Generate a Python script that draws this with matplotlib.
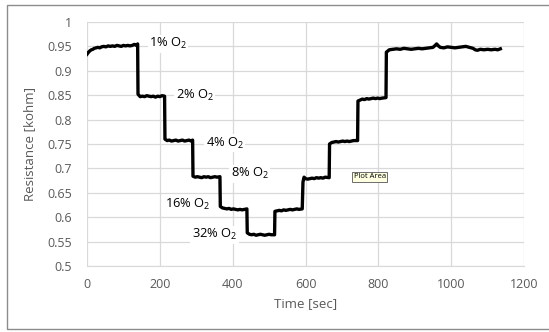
import matplotlib.pyplot as plt
from matplotlib.patches import Rectangle

plt.rcParams['font.family'] = ['Open Sans', 'DejaVu Sans']
plt.rcParams['mathtext.fontset'] = 'custom'
plt.rcParams['mathtext.rm'] = 'Open Sans'
plt.rcParams['mathtext.it'] = 'Open Sans'

# time [sec] and resistance [kohm]
time = [0, 4, 8, 12, 16, 20, 25, 30, 35, 40, 46, 52, 58, 64, 70, 76, 82, 88, 94,
        100, 106, 112, 118, 124, 130, 136, 139,
        140, 146, 152, 158, 164, 170, 176, 182, 188, 194, 200, 206, 213,
        214, 220, 226, 232, 238, 244, 250, 256, 262, 268, 274, 280, 286, 290,
        291, 297, 303, 309, 315, 321, 327, 333, 339, 345, 351, 357, 365,
        366, 372, 378, 384, 390, 396, 402, 408, 414, 420, 426, 432, 439,
        440, 446, 452, 458, 464, 470, 476, 482, 488, 494, 500, 506, 515,
        516, 522, 528, 534, 540, 546, 552, 558, 564, 570, 576, 582, 591,
        593, 596, 600, 606, 612, 618, 624, 630, 636, 642, 648, 654, 665,
        666, 672, 678, 684, 690, 696, 702, 708, 714, 720, 726, 732, 743,
        744, 750, 756, 762, 768, 774, 780, 786, 792, 798, 804, 810, 821,
        822, 830, 840, 850, 860, 870, 880, 890, 900, 910, 920, 930, 940,
        950, 956, 960, 965, 970, 980, 990, 1000, 1010, 1020, 1030, 1040,
        1050, 1060, 1066, 1072, 1080, 1090, 1100, 1110, 1120, 1128, 1135]
resistance = [0.934, 0.938, 0.941, 0.943, 0.944, 0.946, 0.947, 0.948, 0.947, 0.949,
              0.950, 0.949, 0.951, 0.950, 0.951, 0.950, 0.952, 0.951, 0.950,
              0.952, 0.951, 0.952, 0.951, 0.952, 0.954, 0.952, 0.955,
              0.852, 0.847, 0.848, 0.847, 0.849, 0.848, 0.847, 0.848, 0.846, 0.848, 0.847, 0.849, 0.848,
              0.760, 0.757, 0.758, 0.756, 0.757, 0.758, 0.756, 0.757, 0.758, 0.756, 0.757, 0.758, 0.756, 0.758,
              0.684, 0.682, 0.683, 0.682, 0.681, 0.683, 0.682, 0.683, 0.681, 0.682, 0.683, 0.682, 0.683,
              0.622, 0.619, 0.618, 0.617, 0.618, 0.616, 0.617, 0.616, 0.615, 0.616, 0.615, 0.616, 0.617,
              0.568, 0.565, 0.564, 0.565, 0.563, 0.564, 0.565, 0.564, 0.563, 0.564, 0.565, 0.564, 0.564,
              0.612, 0.613, 0.614, 0.613, 0.615, 0.614, 0.615, 0.616, 0.615, 0.616, 0.617, 0.616, 0.617,
              0.672, 0.682, 0.679, 0.678, 0.679, 0.680, 0.679, 0.681, 0.680, 0.681, 0.680, 0.682, 0.681,
              0.750, 0.753, 0.754, 0.755, 0.754, 0.755, 0.756, 0.755, 0.756, 0.755, 0.756, 0.757, 0.757,
              0.838, 0.840, 0.842, 0.841, 0.843, 0.842, 0.843, 0.844, 0.843, 0.844, 0.843, 0.844, 0.845,
              0.938, 0.943, 0.944, 0.945, 0.944, 0.946, 0.945, 0.944, 0.945, 0.946, 0.945, 0.946, 0.947,
              0.948, 0.952, 0.955, 0.951, 0.948, 0.947, 0.949, 0.948, 0.947, 0.948, 0.949, 0.950,
              0.948, 0.946, 0.943, 0.942, 0.944, 0.943, 0.944, 0.943, 0.944, 0.943, 0.945]

labels = ['1% O$_2$', '2% O$_2$', '4% O$_2$', '8% O$_2$', '16% O$_2$', '32% O$_2$']
label_x = [170, 244, 326, 395, 215, 288]
label_y = [0.955, 0.849, 0.752, 0.689, 0.626, 0.564]

grey = '#595959'
grid = '#d9d9d9'

fig = plt.figure(figsize=(5.49, 3.32), dpi=100)
fig.patches.append(Rectangle((0.0128, 0.009), 1.0, 0.976, transform=fig.transFigure,
                             fill=False, edgecolor='#8c8c8c', lw=1.0))
ax = fig.add_axes([0.1585, 0.1988, 0.796, 0.735])

ax.plot(time, resistance, color='black', lw=2.4, zorder=3)

for s, x, y in zip(labels, label_x, label_y):
    ax.text(x, y, s, fontsize=9.3, color='black', va='center', ha='left', zorder=4,
            bbox=dict(facecolor='white', edgecolor='none', pad=1.0))

ax.text(776, 0.683, 'Plot Area', fontsize=5.5, ha='center', va='center', zorder=5,
        bbox=dict(facecolor='#ffffe1', edgecolor='#555555', lw=0.6, pad=1.2))

ax.set_xlim(0, 1200)
ax.set_ylim(0.5, 1.0)
ax.set_xticks(range(0, 1201, 200))
ax.set_yticks([0.5, 0.55, 0.6, 0.65, 0.7, 0.75, 0.8, 0.85, 0.9, 0.95, 1.0])
ax.set_yticklabels(['0.5', '0.55', '0.6', '0.65', '0.7', '0.75', '0.8', '0.85', '0.9', '0.95', '1'])
ax.grid(True, color=grid, lw=0.9)
ax.set_axisbelow(True)
for side in ['top', 'right', 'left']:
    ax.spines[side].set_visible(False)
ax.spines['bottom'].set_color(grid)
ax.tick_params(length=0, labelsize=9, colors=grey)
ax.tick_params(axis='y', pad=11)
ax.tick_params(axis='x', pad=9)
ax.set_xlabel('Time [sec]', fontsize=9.5, color=grey, labelpad=4)
ax.set_ylabel('Resistance [kohm]', fontsize=9.5, color=grey, labelpad=8)

fig.savefig('out.png', dpi=100)
